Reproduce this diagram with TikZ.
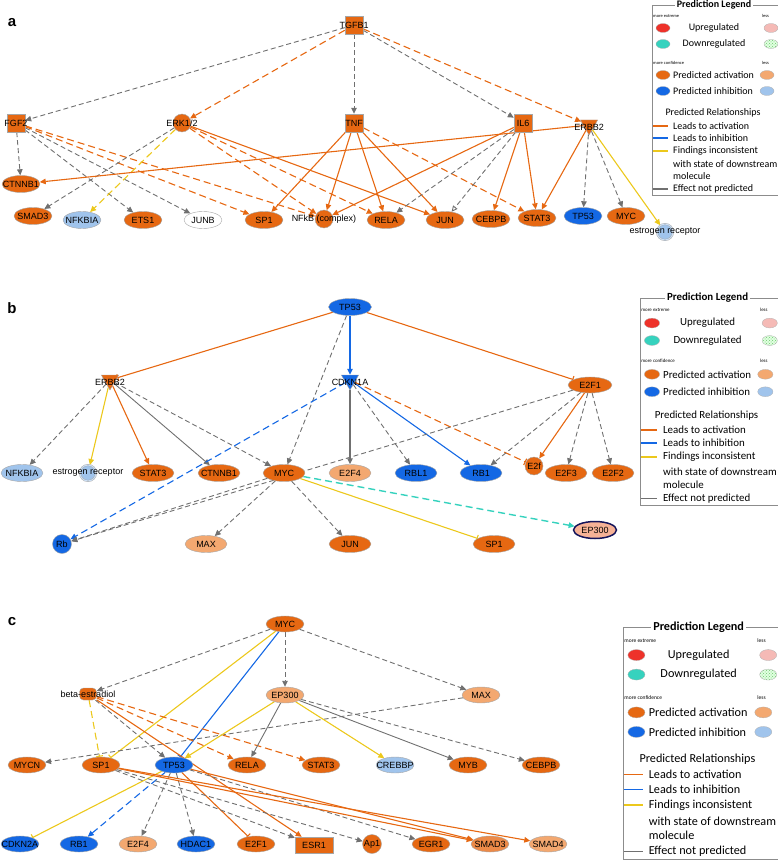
\documentclass[tikz,border=0pt]{standalone}
\usepackage{fontspec}
\setmainfont{Liberation Sans}
\newfontfamily\legfont{Carlito}
\usetikzlibrary{shapes,arrows.meta,patterns,backgrounds}

\definecolor{actor}{RGB}{230,104,18}
\definecolor{actmid}{RGB}{236,138,72}
\definecolor{actlt}{RGB}{243,168,112}
\definecolor{inhbl}{RGB}{20,104,228}
\definecolor{inhlt}{RGB}{160,196,236}
\definecolor{npgray}{RGB}{112,112,112}
\definecolor{incyel}{RGB}{236,200,28}
\definecolor{dnteal}{RGB}{54,210,190}
\definecolor{upred}{RGB}{238,50,42}
\definecolor{uppink}{RGB}{245,186,182}
\definecolor{dngreen}{RGB}{110,200,110}
\definecolor{epsalmon}{RGB}{246,178,150}
\definecolor{epnavy}{RGB}{20,20,90}

\begin{document}
\begin{tikzpicture}[x=1pt, y=-1pt, >={Triangle[length=6pt, width=5.5pt]},
    gene/.style={ellipse, draw=black!35, line width=0.4pt, fill=actor, minimum width=38pt, minimum height=17pt, inner xsep=-14pt, inner ysep=-3pt, font=\fontsize{9}{10}\selectfont},
    gbox/.style={rectangle, draw=black!35, line width=0.4pt, fill=actor, minimum size=18pt, inner xsep=-20pt, inner ysep=-4pt, font=\fontsize{9}{10}\selectfont},
    gtri/.style={regular polygon, regular polygon sides=3, shape border rotate=180, draw=black!35, line width=0.4pt, fill=actor, minimum size=20pt, inner sep=0pt},
    gdot/.style={circle, draw=black!35, line width=0.4pt, fill=actor, minimum size=18pt, inner sep=0pt},
    nlab/.style={font=\fontsize{9}{10}\selectfont, inner sep=0pt},
    pnl/.style={font=\bfseries\fontsize{15}{15}\selectfont, inner sep=0pt},
    lact/.style={draw=actor, line width=1.1pt, ->},
    lactd/.style={lact, dash pattern=on 7pt off 4pt},
    lactbar/.style={draw=actor, line width=1.1pt, -{Bar[width=7pt]}},
    lactdbar/.style={lactbar, dash pattern=on 7pt off 4pt},
    linh/.style={draw=inhbl, line width=1.1pt, ->},
    linhd/.style={linh, dash pattern=on 7pt off 4pt},
    linhbar/.style={draw=inhbl, line width=1.1pt, -{Bar[width=7pt]}},
    linc/.style={draw=incyel, line width=1.1pt, ->},
    lincd/.style={linc, dash pattern=on 7pt off 4pt},
    lincbar/.style={draw=incyel, line width=1.1pt, -{Bar[width=7pt]}},
    lincdbar/.style={lincbar, dash pattern=on 7pt off 4pt},
    lnp/.style={draw=npgray, line width=0.9pt, ->},
    lnpd/.style={lnp, dash pattern=on 5pt off 3pt},
    lnpdo/.style={lnpd, -{Triangle[open, length=6pt, width=5.5pt]}},
    lteal/.style={draw=dnteal, line width=1.4pt, dash pattern=on 7pt off 4pt, ->},
    legtx/.style={font=\legfont\fontsize{10}{11}\selectfont, inner sep=0pt},
    legttl/.style={font=\legfont\bfseries\fontsize{10}{11}\selectfont, fill=white, inner xsep=1.5pt, inner ysep=0pt},
    legsm/.style={anchor=west, font=\legfont\fontsize{4.5}{5}\selectfont, inner sep=0pt},
    legdot/.style={ellipse, draw=black!30, line width=0.3pt, minimum width=14pt, minimum height=9pt, inner sep=0pt},
    predlegend/.pic={
      \draw[black!45, line width=0.5pt] (0,0) rectangle (140,190);
      \node[legttl] (-ttl) at (62,0) {Prediction Legend};
      \node[legsm] (-mx) at (1,11) {more extreme};
      \node[legsm] (-l1) at (110,11) {less};
      \node[legdot, fill=upred] (-up) at (11,23) {};
      \node[legtx] (-upt) at (62,23) {Upregulated};
      \node[legdot, fill=uppink] (-upl) at (119,23) {};
      \node[legdot, fill=dnteal] (-dn) at (11,39) {};
      \node[legtx] (-dnt) at (62,39) {Downregulated};
      \node[legdot, preaction={fill=green!12}, pattern=crosshatch dots, pattern color=dngreen] (-dnl) at (119,39) {};
      \node[legsm] (-mc) at (1,58) {more confidence};
      \node[legsm] (-l2) at (110,58) {less};
      \node[legdot, fill=actor] (-ac) at (11,70) {};
      \node[legtx, anchor=west] (-act) at (21,70) {Predicted activation};
      \node[legdot, fill=actlt] (-acl) at (115,70) {};
      \node[legdot, fill=inhbl] (-ih) at (11,86) {};
      \node[legtx, anchor=west] (-iht) at (21,86) {Predicted inhibition};
      \node[legdot, fill=inhlt] (-ihl) at (115,86) {};
      \node[legtx] (-rel) at (61,108) {Predicted Relationships};
      \draw[actor, line width=1.5pt] (1,121) -- (16,121);
      \node[legtx, anchor=west] (-r1) at (21,121) {Leads to activation};
      \draw[inhbl, line width=1.5pt] (1,133) -- (16,133);
      \node[legtx, anchor=west] (-r2) at (21,133) {Leads to inhibition};
      \draw[incyel, line width=1.5pt] (1,146) -- (16,146);
      \node[legtx, anchor=west] (-r3) at (21,146) {Findings inconsistent};
      \node[legtx, anchor=west] (-r4) at (21,159) {with state of downstream};
      \node[legtx, anchor=west] (-r5) at (21,171) {molecule};
      \draw[npgray, line width=1.5pt] (1,184) -- (16,184);
      \node[legtx, anchor=west] (-r6) at (21,184) {Effect not predicted};
    }
]
    \useasboundingbox (0,0) rectangle (778,861);
    \clip (0,0) rectangle (778,861);

    \node[pnl] (pa) at (12,23) {a};
    \node[gbox] (tgfb) at (354,25) {TGFB1};
    \node[gbox] (fgf) at (16,123) {FGF2};
    \node[gdot, label={[nlab]center:ERK1/2}] (erk) at (182,123) {};
    \node[gbox] (tnf) at (354,123) {TNF};
    \node[gbox] (il6) at (523,123) {IL6};
    \node[gtri, label={[nlab, yshift=-2pt]center:ERBB2}] (erbba) at (589,125) {};
    \node[gene] (ctnnba) at (21,184) {CTNNB1};
    \node[gene] (smad3a) at (33,216) {SMAD3};
    \node[gene, fill=inhlt] (nfkbiaa) at (82,220) {NFKBIA};
    \node[gene] (ets1a) at (143,220) {ETS1};
    \node[gene, fill=white] (junba) at (203,220) {JUNB};
    \node[gene] (sp1a) at (264,220) {SP1};
    \node[gdot, label={[nlab]center:NFkB (complex)}] (nfkb) at (324,219) {};
    \node[gene] (relaa) at (386,220) {RELA};
    \node[gene] (juna) at (445,220) {JUN};
    \node[gene] (cebpba) at (491,219) {CEBPB};
    \node[gene] (stat3a) at (537,218) {STAT3};
    \node[gene, fill=inhbl] (tp53a) at (583,216) {TP53};
    \node[gene] (myca) at (626,216) {MYC};
    \node[gdot, fill=inhlt, minimum size=16pt, double=inhlt!55!white, double distance=1pt, label={[nlab]center:estrogen receptor}] (esra) at (665,232) {};
    \pic (lega) at (652,5) {predlegend};

    \begin{scope}[on background layer]
    \draw[lnpd] (tgfb) -- (fgf);
    \draw[lactd] (tgfb) -- (erk);
    \draw[lnpd] (tgfb) -- (tnf);
    \draw[lnpd] (tgfb) -- (il6);
    \draw[lactd] (tgfb) -- (erbba);
    \draw[lnpd] (fgf) -- (ctnnba);
    \draw[lnpd] (fgf) -- (ets1a);
    \draw[lnpd] (fgf) -- (junba);
    \draw[lactd] (fgf) -- (sp1a);
    \draw[lactd] (fgf) -- (nfkb);
    \draw[lnpd] (erk) -- (smad3a);
    \draw[lincd] (erk) -- (nfkbiaa);
    \draw[lactd] (erk) -- (nfkb);
    \draw[lactd] (erk) -- (relaa);
    \draw[lact] (erk) -- (juna);
    \draw[lact] (tnf) -- (sp1a);
    \draw[lact] (tnf) -- (nfkb);
    \draw[lact] (tnf) -- (relaa);
    \draw[lact] (tnf) -- (juna);
    \draw[lactd] (tnf) -- (stat3a);
    \draw[lact] (il6) -- (nfkb);
    \draw[lnpd] (il6) -- (relaa);
    \draw[lnpdo] (il6) -- (juna);
    \draw[lact] (il6) -- (cebpba);
    \draw[lact] (il6) -- (stat3a);
    \draw[lact] (erbba) -- (ctnnba);
    \draw[lact] (erbba) -- (stat3a);
    \draw[lnpd] (erbba) -- (tp53a);
    \draw[lnpd] (erbba) -- (myca);
    \draw[linc] (erbba) -- (esra);
    \end{scope}

    \begin{scope}[gene/.append style={minimum width=42pt}]
    \node[pnl] (pb) at (12,308) {b};
    \node[gene, fill=inhbl, minimum width=43pt] (tp53b) at (350,307) {TP53};
    \node[gtri, label={[nlab, yshift=-2pt]center:ERBB2}] (erbbb) at (110,380) {};
    \node[gtri, fill=inhbl, label={[nlab, yshift=-2pt]center:CDKN1A}] (cdkn) at (350,380) {};
    \node[gene, minimum width=44pt, minimum height=16pt] (e2f1b) at (590,385) {E2F1};
    \node[gene, fill=inhlt] (nfkbiab) at (22,473) {NFKBIA};
    \node[gdot, fill=inhlt, minimum size=16pt, double=inhlt!55!white, double distance=1pt, label={[nlab]center:estrogen receptor}] (esrb) at (88,473) {};
    \node[gene] (stat3b) at (153,473) {STAT3};
    \node[gene] (ctnnbb) at (219,473) {CTNNB1};
    \node[gene] (mycb) at (284,473) {MYC};
    \node[gene, fill=actlt] (e2f4b) at (350,473) {E2F4};
    \node[gene, fill=inhbl] (rbl1b) at (416,473) {RBL1};
    \node[gene, fill=inhbl] (rb1b) at (481,473) {RB1};
    \node[gdot, label={[nlab]center:E2f}] (e2fb) at (534,466) {};
    \node[gene] (e2f3b) at (566,473) {E2F3};
    \node[gene] (e2f2b) at (613,473) {E2F2};
    \node[gdot, fill=inhbl, minimum size=19pt, label={[nlab]center:Rb}] (rbb) at (62,544) {};
    \node[gene, fill=actlt] (maxb) at (206,544) {MAX};
    \node[gene] (junb) at (350,544) {JUN};
    \node[gene] (sp1b) at (494,544) {SP1};
    \node[gene, fill=epsalmon, draw=epnavy, line width=1.5pt, minimum width=43pt] (ep300b) at (595,530) {EP300};
    \end{scope}
    \pic[scale=1.09, transform shape] (legb) at (640,298) {predlegend};

    \begin{scope}[on background layer]
    \draw[lactbar] (tp53b) -- (erbbb);
    \draw[linh] (tp53b) -- (cdkn);
    \draw[lactbar] (tp53b) -- (e2f1b);
    \draw[lnpd] (tp53b) -- (mycb);
    \draw[lnpd] (erbbb) -- (nfkbiab);
    \draw[linc] (erbbb) -- (esrb);
    \draw[lact] (erbbb) -- (stat3b);
    \draw[lnp] (erbbb) -- (ctnnbb);
    \draw[lnpd] (erbbb) -- (mycb);
    \draw[linhd] (cdkn) -- (rbb);
    \draw[lnp, line width=1.3pt] (cdkn) -- (e2f4b);
    \draw[lnpd] (cdkn) -- (rbl1b);
    \draw[linh] (cdkn) -- (rb1b);
    \draw[lactdbar] (cdkn) -- (e2fb);
    \draw[lnpd] (e2f1b) -- (rbb);
    \draw[lnpd] (e2f1b) -- (rb1b);
    \draw[lact] (e2f1b) -- (e2fb);
    \draw[lnpd] (e2f1b) -- (e2f3b);
    \draw[lnpd] (e2f1b) -- (e2f2b);
    \draw[lnpd] (mycb) -- (rbb);
    \draw[lnpd] (mycb) -- (maxb);
    \draw[lnpd] (mycb) -- (junb);
    \draw[lincbar] (mycb) -- (sp1b);
    \draw[lteal] (mycb) -- (ep300b);
    \end{scope}

    \begin{scope}[gene/.append style={minimum height=16pt}]
    \node[pnl] (pc) at (12,622) {c};
    \node[gene] (mycc) at (285,624) {MYC};
    \node[gbox, rounded corners=4pt, minimum width=17pt, minimum height=12pt, label={[nlab]center:beta-estradiol}] (bestr) at (88,694) {};
    \node[gene, fill=actlt] (ep300c) at (285,695) {EP300};
    \node[gene, fill=actlt] (maxc) at (481,695) {MAX};
    \node[gene] (mycnc) at (27,765) {MYCN};
    \node[gene] (sp1c) at (101,765) {SP1};
    \node[gene, fill=inhbl] (tp53c) at (174,765) {TP53};
    \node[gene] (relac) at (247,765) {RELA};
    \node[gene] (stat3c) at (321,765) {STAT3};
    \node[gene, fill=inhlt] (crebbpc) at (395,765) {CREBBP};
    \node[gene] (mybc) at (468,765) {MYB};
    \node[gene] (cebpbc) at (541,765) {CEBPB};
    \node[gene, fill=inhbl] (cdkn2ac) at (20,844) {CDKN2A};
    \node[gene, fill=inhbl] (rb1c) at (79,844) {RB1};
    \node[gene, fill=actlt] (e2f4c) at (138,844) {E2F4};
    \node[gene, fill=inhbl] (hdac1c) at (196,844) {HDAC1};
    \node[gene] (e2f1c) at (256,844) {E2F1};
    \node[gbox, minimum width=38pt, minimum height=16pt] (esr1c) at (314,845) {ESR1};
    \node[gdot, minimum size=19pt, label={[nlab]center:Ap1}] (ap1c) at (372,844) {};
    \node[gene] (egr1c) at (431,844) {EGR1};
    \node[gene, fill=actmid] (smad3c) at (490,844) {SMAD3};
    \node[gene, fill=actlt] (smad4c) at (548,844) {SMAD4};
    \end{scope}
    \pic[scale=1.22, transform shape] (legc) at (623,627) {predlegend};

    \begin{scope}[on background layer]
    \draw[lnpd] (mycc) -- (bestr);
    \draw[lnpd] (mycc) -- (ep300c);
    \draw[lnpd] (mycc) -- (maxc);
    \draw[lincbar] (mycc) -- (sp1c);
    \draw[linhbar] (mycc) -- (tp53c);
    \draw[lnpd] (maxc) -- (mycnc);
    \draw[lincdbar] (bestr) -- (sp1c);
    \draw[lnpd] (bestr) -- (tp53c);
    \draw[lactd] (bestr) -- (relac);
    \draw[lactd] (bestr) -- (stat3c);
    \draw[lact] (bestr) -- (esr1c);
    \draw[linc] (ep300c) -- (tp53c);
    \draw[lnp] (ep300c) -- (relac);
    \draw[linc] (ep300c) -- (crebbpc);
    \draw[lnp] (ep300c) -- (mybc);
    \draw[lnpd] (ep300c) -- (cebpbc);
    \draw[lincbar] (tp53c) -- (cdkn2ac);
    \draw[linhd] (tp53c) -- (rb1c);
    \draw[lnpd] (tp53c) -- (e2f4c);
    \draw[lnpd] (tp53c) -- (hdac1c);
    \draw[lactbar] (tp53c) -- (e2f1c);
    \draw[lact] (tp53c) -- (smad3c);
    \draw[lnpd] (tp53c) -- (egr1c);
    \draw[lact] (sp1c) -- (smad3c);
    \draw[lact] (sp1c) -- (smad4c);
    \draw[lnpd] (sp1c) -- (esr1c);
    \draw[lnpd] (sp1c) -- (ap1c);
    \end{scope}
\end{tikzpicture}
\end{document}
